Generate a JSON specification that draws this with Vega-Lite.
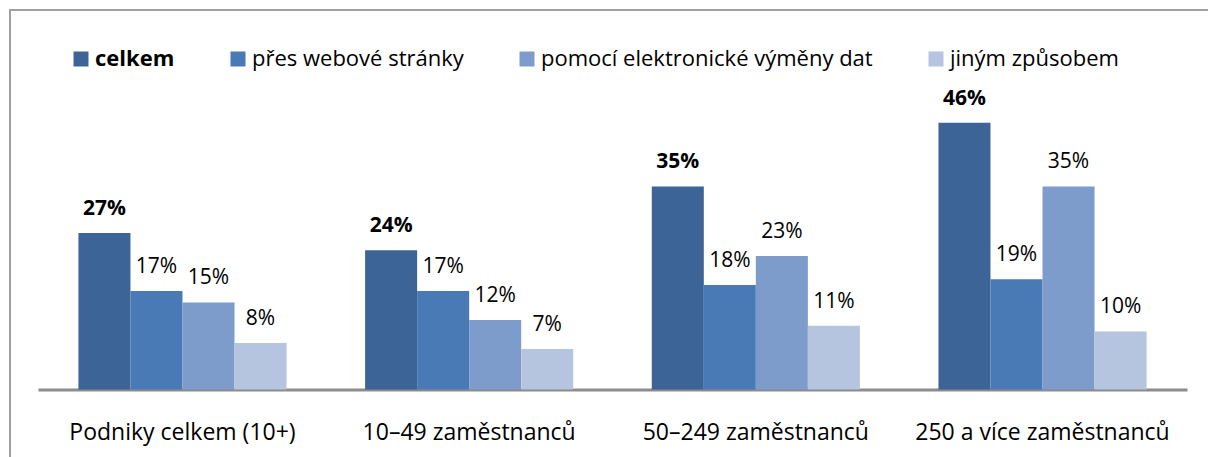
{
  "$schema": "https://vega.github.io/schema/vega-lite/v6.json",
  "usermeta": {"embedOptions": {"actions": false}},
  "width": 1218,
  "height": 467,
  "autosize": "none",
  "padding": {"left": 10, "top": 10, "right": -20, "bottom": -20},
  "background": "white",
  "config": {"view": {"stroke": "#a0a0a0", "strokeWidth": 2}, "font": "Open Sans"},
  "data": {
    "values": [
      {"kat": "Podniky celkem (10+)", "typ": "celkem", "podil": 0.27},
      {"kat": "Podniky celkem (10+)", "typ": "přes webové stránky", "podil": 0.17},
      {"kat": "Podniky celkem (10+)", "typ": "pomocí elektronické výměny dat", "podil": 0.15},
      {"kat": "Podniky celkem (10+)", "typ": "jiným způsobem", "podil": 0.08},
      {"kat": "10–49 zaměstnanců", "typ": "celkem", "podil": 0.24},
      {"kat": "10–49 zaměstnanců", "typ": "přes webové stránky", "podil": 0.17},
      {"kat": "10–49 zaměstnanců", "typ": "pomocí elektronické výměny dat", "podil": 0.12},
      {"kat": "10–49 zaměstnanců", "typ": "jiným způsobem", "podil": 0.07},
      {"kat": "50–249 zaměstnanců", "typ": "celkem", "podil": 0.35},
      {"kat": "50–249 zaměstnanců", "typ": "přes webové stránky", "podil": 0.18},
      {"kat": "50–249 zaměstnanců", "typ": "pomocí elektronické výměny dat", "podil": 0.23},
      {"kat": "50–249 zaměstnanců", "typ": "jiným způsobem", "podil": 0.11},
      {"kat": "250 a více zaměstnanců", "typ": "celkem", "podil": 0.46},
      {"kat": "250 a více zaměstnanců", "typ": "přes webové stránky", "podil": 0.19},
      {"kat": "250 a více zaměstnanců", "typ": "pomocí elektronické výměny dat", "podil": 0.35},
      {"kat": "250 a více zaměstnanců", "typ": "jiným způsobem", "podil": 0.10}
    ]
  },
  "layer": [
    {
      "mark": {"type": "bar"},
      "encoding": {
        "x": {
          "field": "kat", "type": "nominal",
          "sort": ["Podniky celkem (10+)", "10–49 zaměstnanců", "50–249 zaměstnanců", "250 a více zaměstnanců"],
          "scale": {"range": [28, 1177], "paddingInner": 0.274, "paddingOuter": 0.141},
          "axis": {"title": null, "labelAngle": 0, "ticks": false, "domainColor": "#8c8c8c", "domainWidth": 3, "labelFontSize": 23, "labelColor": "#000000", "labelPadding": 32, "labelLimit": 0, "offset": -87.5}
        },
        "xOffset": {
          "field": "typ", "type": "nominal",
          "sort": ["celkem", "přes webové stránky", "pomocí elektronické výměny dat", "jiným způsobem"],
          "scale": {"paddingInner": 0, "paddingOuter": 0}
        },
        "y": {
          "field": "podil", "type": "quantitative",
          "scale": {"domain": [-0.1509, 0.6543], "nice": false, "zero": false},
          "axis": null
        },
        "color": {
          "field": "typ", "type": "nominal",
          "sort": ["celkem", "přes webové stránky", "pomocí elektronické výměny dat", "jiným způsobem"],
          "scale": {"domain": ["celkem", "přes webové stránky", "pomocí elektronické výměny dat", "jiným způsobem"], "range": ["#3c6496", "#4a7ab5", "#7d9ccb", "#b5c5e0"]},
          "legend": {
            "title": null, "orient": "none", "direction": "horizontal", "legendX": 60, "legendY": 38,
            "symbolType": "square", "symbolSize": 225, "symbolStrokeWidth": 0, "symbolOpacity": 1,
            "labelFontSize": 22, "labelColor": "#000000", "labelOffset": 3, "columnPadding": 52, "labelLimit": 0,
            "labelFontWeight": {"expr": "datum.label == 'celkem' ? 'bold' : 'normal'"}
          }
        }
      }
    },
    {
      "mark": {"type": "text", "fontSize": 21, "baseline": "alphabetic", "dy": -18, "color": "#000000", "fontWeight": {"expr": "datum.typ == 'celkem' ? 'bold' : 'normal'"}},
      "encoding": {
        "x": {"field": "kat", "type": "nominal", "sort": ["Podniky celkem (10+)", "10–49 zaměstnanců", "50–249 zaměstnanců", "250 a více zaměstnanců"]},
        "xOffset": {"field": "typ", "type": "nominal", "sort": ["celkem", "přes webové stránky", "pomocí elektronické výměny dat", "jiným způsobem"]},
        "y": {"field": "podil", "type": "quantitative", "axis": null},
        "text": {"field": "podil", "type": "quantitative", "format": ".0%"}
      }
    }
  ]
}
